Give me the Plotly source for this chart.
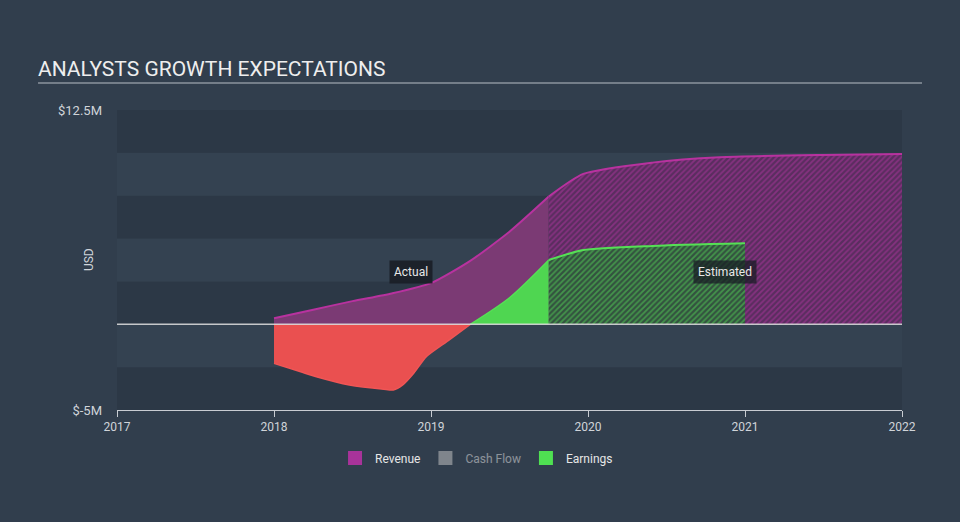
import plotly.graph_objects as go

# ---- data (USD millions, fractional years) ----
rev_act_x = [2018.0, 2018.25, 2018.5, 2018.75, 2019.0, 2019.25, 2019.5, 2019.75]
rev_act_y = [0.35, 0.85, 1.35, 1.8, 2.4, 3.7, 5.4, 7.45]
rev_est_x = [2019.75, 2019.97, 2020.41, 2020.84, 2021.5, 2022.0]
rev_est_y = [7.45, 8.77, 9.43, 9.74, 9.88, 9.94]

earn_neg_x = [2018.0, 2018.17, 2018.27, 2018.48, 2018.7, 2018.76, 2018.82, 2018.89, 2018.97, 2019.11, 2019.25]
earn_neg_y = [-2.28, -2.77, -3.06, -3.54, -3.79, -3.83, -3.54, -2.86, -1.89, -0.95, 0.0]
earn_pos_x = [2019.25, 2019.5, 2019.75]
earn_pos_y = [0.0, 1.55, 3.75]
earn_est_x = [2019.75, 2019.97, 2020.41, 2021.0]
earn_est_y = [3.75, 4.33, 4.57, 4.72]

x_ticks = [2017, 2018, 2019, 2020, 2021, 2022]
y_ticks = [-5, 12.5]
y_ticktext = ["$-5M", "$12.5M"]
legend_names = ["Revenue", "Cash Flow", "Earnings"]
legend_colors = ["#a8339a", "#cccccc", "#4fe052"]

REV_LINE = "#b8329f"
REV_FILL = "#7b3a74"
RED = "#ea5050"
GREEN = "#4fd651"

fig = go.Figure()

# background bands
bands = [(-5, -2.5, "#2c3846"), (-2.5, 0, "#344251"), (0, 2.5, "#2c3846"),
         (2.5, 5, "#344251"), (5, 7.5, "#2c3846"), (7.5, 10, "#344251"), (10, 12.5, "#2c3846")]
for y0, y1, c in bands:
    fig.add_shape(type="rect", xref="x", yref="y", x0=2017, x1=2022, y0=y0, y1=y1,
                  fillcolor=c, line_width=0, layer="below")

# revenue actual
fig.add_trace(go.Scatter(x=rev_act_x, y=rev_act_y, mode="lines", fill="tozeroy",
                         line=dict(color=REV_LINE, width=2, shape="spline", smoothing=0.6),
                         fillcolor=REV_FILL, showlegend=False, hoverinfo="skip"))
# revenue estimate (hatched)
fig.add_trace(go.Scatter(x=rev_est_x, y=rev_est_y, mode="lines", fill="tozeroy",
                         line=dict(color=REV_LINE, width=2, shape="spline", smoothing=0.6),
                         fillcolor="#5e2d62",
                         fillpattern=dict(shape="/", fgcolor="#b236a2", bgcolor="#5a2d5f",
                                          size=4, solidity=0.45),
                         showlegend=False, hoverinfo="skip"))
# earnings negative
fig.add_trace(go.Scatter(x=earn_neg_x, y=earn_neg_y, mode="lines", fill="tozeroy",
                         line=dict(color="#f05555", width=1.5, shape="spline", smoothing=0.6),
                         fillcolor=RED, showlegend=False, hoverinfo="skip"))
# earnings positive actual
fig.add_trace(go.Scatter(x=earn_pos_x, y=earn_pos_y, mode="lines", fill="tozeroy",
                         line=dict(color="#55e055", width=1.5, shape="spline", smoothing=0.8),
                         fillcolor=GREEN, showlegend=False, hoverinfo="skip"))
# earnings estimate (hatched)
fig.add_trace(go.Scatter(x=earn_est_x, y=earn_est_y, mode="lines", fill="tozeroy",
                         line=dict(color="#55e055", width=2, shape="spline", smoothing=0.6),
                         fillcolor="#36573f",
                         fillpattern=dict(shape="/", fgcolor="#55d857", bgcolor="#33523f",
                                          size=4, solidity=0.45),
                         showlegend=False, hoverinfo="skip"))

# legend dummies
for name, col in zip(legend_names, legend_colors):
    fig.add_trace(go.Scatter(x=[None], y=[None], mode="markers", name=name,
                             marker=dict(symbol="square", size=14, color=col),
                             visible="legendonly" if name == "Cash Flow" else True))

# zero line
fig.add_shape(type="line", xref="x", yref="y", x0=2017, x1=2022, y0=0, y1=0,
              line=dict(color="rgba(225,225,225,0.85)", width=1.5), layer="above")

# title + underline
fig.add_annotation(xref="paper", yref="paper", x=-0.103, y=1.0, text="ANALYSTS GROWTH EXPECTATIONS",
                   showarrow=False, xanchor="left", yanchor="bottom", yshift=27,
                   font=dict(family="Roboto", size=21, color="#eeeeee"))
fig.add_shape(type="line", xref="paper", yref="paper", x0=-0.1006, x1=1.0255, y0=1.09, y1=1.09,
              line=dict(color="#b8bec6", width=1.2))

# y axis title
fig.add_annotation(xref="paper", yref="paper", x=-0.047, y=0.5, text="USD", textangle=-90,
                   showarrow=False, font=dict(family="Roboto", size=12, color="#d0d4d9"))

# labels
fig.add_annotation(x=2018.87, y=3.05, text="Actual", showarrow=False,
                   bgcolor="rgba(25,30,38,0.9)", borderpad=4,
                   font=dict(family="Roboto", size=12, color="#e8e8e8"))
fig.add_annotation(x=2020.87, y=3.05, text="Estimated", showarrow=False,
                   bgcolor="rgba(25,30,38,0.75)", borderpad=4,
                   font=dict(family="Roboto", size=12, color="#e8e8e8"))

fig.update_layout(
    width=960, height=522,
    margin=dict(l=117, r=58, t=110, b=112),
    paper_bgcolor="#313e4d", plot_bgcolor="#313e4d",
    font=dict(family="Roboto", color="#d0d4d9", size=12),
    showlegend=True,
    legend=dict(orientation="h", x=0.458, xanchor="center", y=-0.16, yanchor="middle",
                font=dict(size=12, color="#e6e6e6"), itemclick=False, itemdoubleclick=False,
                bgcolor="rgba(0,0,0,0)"),
    xaxis=dict(range=[2017, 2022], tickvals=x_ticks, ticktext=[str(t) for t in x_ticks],
               showgrid=False, zeroline=False, showline=True, linecolor="#c8ccd2", linewidth=1,
               ticks="outside", ticklen=6, tickcolor="#c8ccd2",
               tickfont=dict(size=12, color="#d0d4d9"), fixedrange=True),
    yaxis=dict(range=[-5, 12.5], tickvals=y_ticks, ticktext=y_ticktext, showgrid=False,
               zeroline=False, showline=False, ticks="", ticklabelstandoff=14,
               tickfont=dict(size=13, color="#d0d4d9"), fixedrange=True),
)

fig.write_html("out.html", config={"displayModeBar": False},
               post_script="document.body.style.margin='0';document.body.style.overflow='hidden';")
